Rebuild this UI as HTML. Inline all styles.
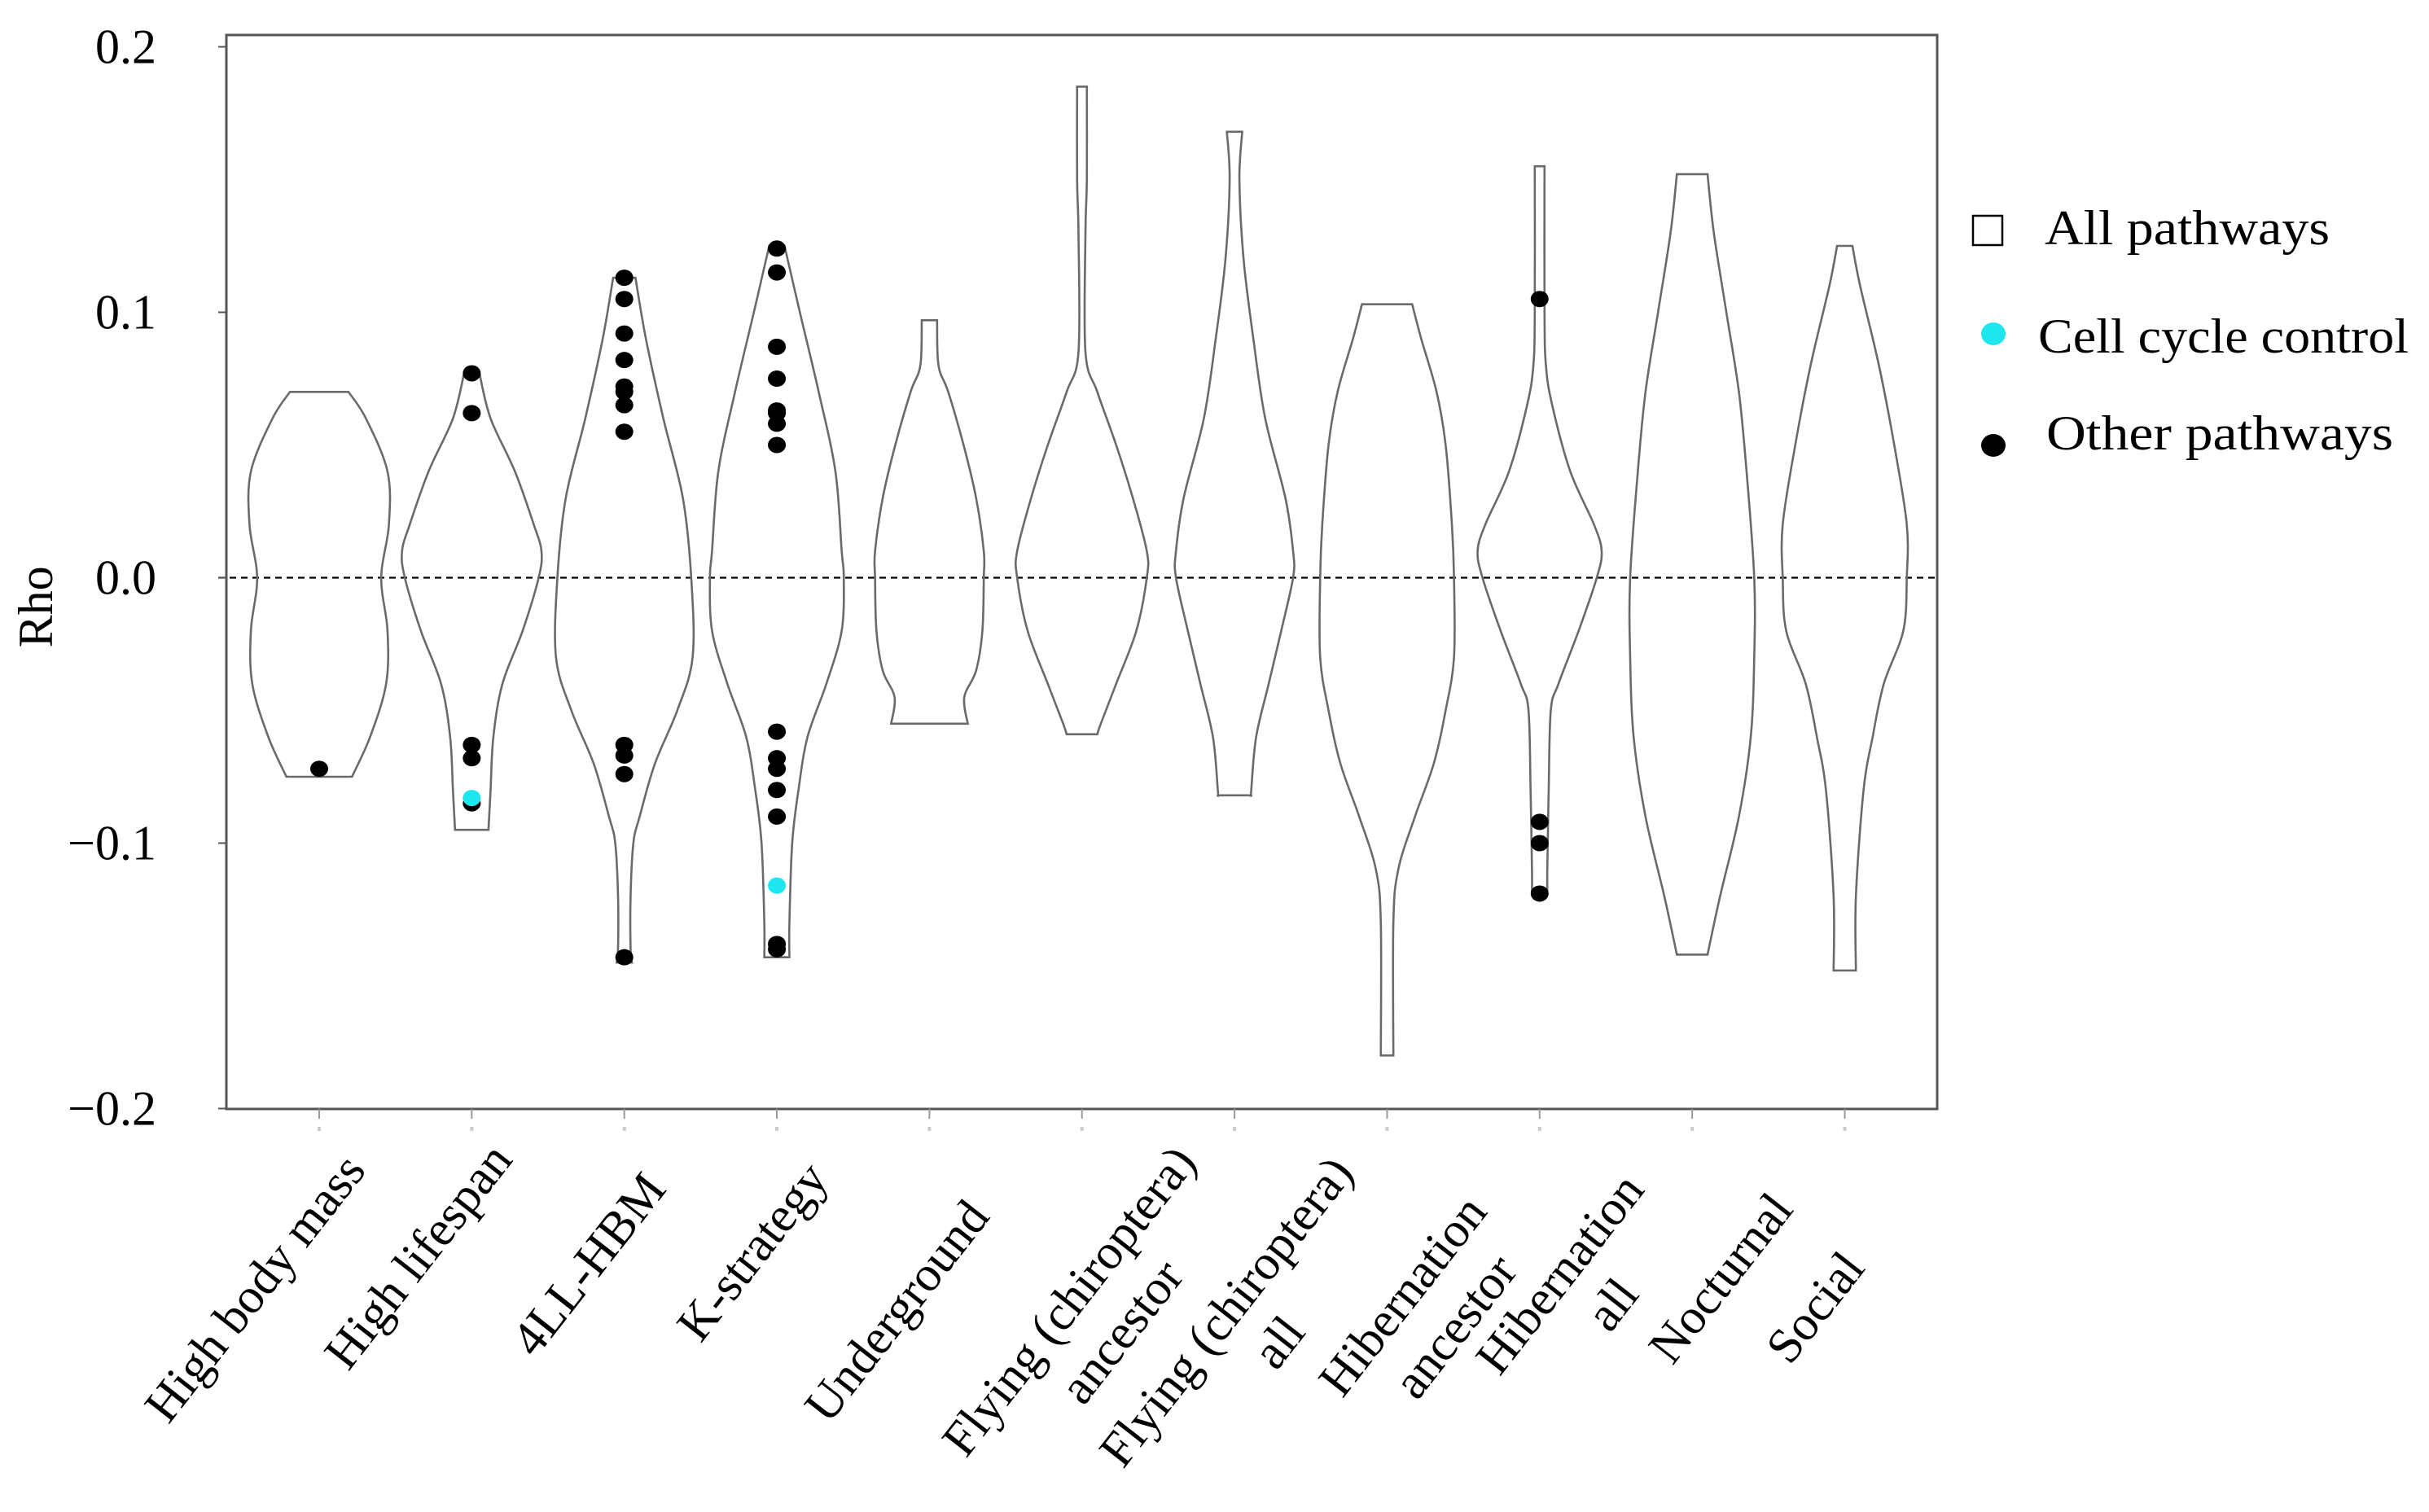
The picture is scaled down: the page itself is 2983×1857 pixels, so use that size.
<!DOCTYPE html>
<html><head><meta charset="utf-8"><style>
html,body{margin:0;padding:0;background:#fff;}
svg{display:block;font-family:"Liberation Serif",serif;}
</style></head><body>
<svg id="chart" width="2983" height="1857" viewBox="0 0 2983 1857" xmlns="http://www.w3.org/2000/svg">
<rect x="0" y="0" width="2983" height="1857" fill="#fff"/>
<g id="plot"></g>
<g id="legend">
  <rect x="2423" y="265" width="36" height="36" fill="#fff" stroke="#000" stroke-width="2.5"/>
  <text x="2511" y="300" font-size="60" textLength="350" lengthAdjust="spacingAndGlyphs">All pathways</text>
  <ellipse cx="2448" cy="410" rx="15" ry="14" fill="#1ee6ee"/>
  <text x="2503" y="433" font-size="60" textLength="455" lengthAdjust="spacingAndGlyphs">Cell cycle control</text>
  <ellipse cx="2448" cy="547" rx="15" ry="14" fill="#000"/>
  <text x="2513" y="552" font-size="60" textLength="426" lengthAdjust="spacingAndGlyphs">Other pathways</text>
</g>
</svg>
<script>
const categories = [["High body mass"],["High lifespan"],["4LL-HBM"],["K-strategy"],["Underground"],["Flying (chiroptera)","ancestor"],["Flying (chiroptera)","all"],["Hibernation","ancestor"],["Hibernation","all"],["Nocturnal"],["Social"]];
const yTicks = [0.2, 0.1, 0.0, -0.1, -0.2];
const yTickLabels = ["0.2","0.1","0.0","\u22120.1","\u22120.2"];
// violin density profiles: rho values (top to bottom) and relative half-widths
const profileValues = [
 [0.07,0.06,0.04,0.02,0.0,-0.02,-0.04,-0.06,-0.075],
 [0.077,0.06,0.04,0.02,0.01,0.0,-0.02,-0.04,-0.06,-0.08,-0.095],
 [0.113,0.09,0.06,0.03,0.0,-0.03,-0.05,-0.07,-0.09,-0.1,-0.12,-0.14,-0.145],
 [0.125,0.1,0.07,0.04,0.01,0.0,-0.02,-0.04,-0.06,-0.08,-0.1,-0.13,-0.143],
 [0.097,0.08,0.07,0.05,0.03,0.01,0.0,-0.02,-0.035,-0.045,-0.055],
 [0.185,0.15,0.13,0.085,0.07,0.05,0.03,0.01,0.0,-0.02,-0.04,-0.055,-0.059],
 [0.168,0.15,0.12,0.09,0.06,0.03,0.01,0.0,-0.02,-0.04,-0.06,-0.08,-0.082],
 [0.103,0.09,0.07,0.05,0.02,0.0,-0.03,-0.05,-0.07,-0.09,-0.11,-0.13,-0.18],
 [0.155,0.1,0.08,0.065,0.04,0.02,0.01,0.0,-0.02,-0.04,-0.05,-0.08,-0.11,-0.118],
 [0.152,0.13,0.1,0.07,0.04,0.0,-0.03,-0.06,-0.09,-0.12,-0.142],
 [0.125,0.11,0.08,0.05,0.02,0.0,-0.02,-0.04,-0.06,-0.08,-0.12,-0.148]
];
const profileWidths = [
 [0.42,0.67,0.98,1.0,0.89,0.98,0.96,0.73,0.47],
 [0.11,0.27,0.62,0.89,1.0,0.96,0.73,0.44,0.31,0.27,0.24],
 [0.16,0.31,0.56,0.84,0.96,0.98,0.76,0.44,0.22,0.13,0.09,0.09,0.11],
 [0.11,0.33,0.6,0.84,0.93,0.96,0.93,0.71,0.44,0.31,0.22,0.18,0.18],
 [0.11,0.13,0.27,0.49,0.67,0.78,0.78,0.76,0.67,0.5,0.55],
 [0.07,0.07,0.05,0.05,0.22,0.49,0.73,0.93,0.93,0.78,0.49,0.27,0.22],
 [0.11,0.07,0.13,0.27,0.44,0.73,0.84,0.84,0.67,0.49,0.31,0.24,0.24],
 [0.36,0.49,0.71,0.84,0.93,0.96,0.96,0.84,0.67,0.4,0.16,0.09,0.09],
 [0.07,0.07,0.09,0.18,0.44,0.78,0.89,0.82,0.56,0.27,0.16,0.13,0.11,0.11],
 [0.22,0.31,0.49,0.67,0.78,0.89,0.89,0.84,0.67,0.4,0.22],
 [0.11,0.22,0.49,0.71,0.89,0.89,0.84,0.56,0.4,0.27,0.16,0.16]
];
const otherPoints = [
 [-0.072],
 [0.077,0.062,-0.063,-0.068,-0.085],
 [0.113,0.105,0.092,0.082,0.072,0.070,0.065,0.055,-0.063,-0.067,-0.074,-0.143],
 [0.124,0.115,0.087,0.075,0.063,0.062,0.058,0.05,-0.058,-0.068,-0.072,-0.08,-0.09,-0.138,-0.14],
 [],[],[],[],
 [0.105,-0.092,-0.1,-0.119],
 [],[]
];
const cellCyclePoints = [[],[-0.083],[],[-0.116],[],[],[],[],[],[],[]];

const NS="http://www.w3.org/2000/svg";
const X0=392, DX=187.35, Y0=709.5, YS=3260; // px per unit rho
const plotL=278, plotR=2379, plotT=43, plotB=1362, WSCALE=85.6;
const xPos = i => X0 + i*DX;
const yPos = v => Y0 - v*YS;
const plot=document.getElementById('plot');
function mk(tag, attrs, parent){const e=document.createElementNS(NS,tag);for(const k in attrs)e.setAttribute(k,attrs[k]);(parent||plot).appendChild(e);return e;}

let e=mk('rect',{x:plotL,y:plotT,width:plotR-plotL,height:plotB-plotT,fill:'none',stroke:'#555',"stroke-width":3});


e=mk('line',{x1:268,x2:plotR,y1:yPos(0),y2:yPos(0),stroke:'#000',"stroke-width":2.2,"stroke-dasharray":"8 6"});


yTicks.forEach((t,i)=>{
  const tk=mk('line',{x1:268,x2:plotL,y1:yPos(t),y2:yPos(t),stroke:'#555',"stroke-width":2});
  
  
  const lb=mk('text',{x:192,y:yPos(t)+20,"font-size":60,"text-anchor":"end"});
  lb.textContent=yTickLabels[i];
  
  
});
e=mk('text',{x:0,y:0,"font-size":60,"text-anchor":"middle",transform:`translate(64,${yPos(-0.011)}) rotate(-90)`});
e.textContent='Rho';



function smoothSide(pts){
  let d='';
  for(let i=0;i<pts.length-1;i++){
    const p0=pts[Math.max(0,i-1)],p1=pts[i],p2=pts[i+1],p3=pts[Math.min(pts.length-1,i+2)];
    const c1=[p1[0]+(p2[0]-p0[0])/6,p1[1]+(p2[1]-p0[1])/6];
    const c2=[p2[0]-(p3[0]-p1[0])/6,p2[1]-(p3[1]-p1[1])/6];
    d+=` C${c1[0]},${c1[1]} ${c2[0]},${c2[1]} ${p2[0]},${p2[1]}`;
  }
  return d;
}
categories.forEach((c,i)=>{
  const cx=xPos(i);
  const vals=profileValues[i], ws=profileWidths[i];
  const right=vals.map((v,j)=>[cx+ws[j]*WSCALE,yPos(v)]);
  const left=vals.map((v,j)=>[cx-ws[j]*WSCALE,yPos(v)]).reverse();
  let d=`M${left[left.length-1][0]},${left[left.length-1][1]} L${right[0][0]},${right[0][1]}`+smoothSide(right)+` L${left[0][0]},${left[0][1]}`+smoothSide(left)+' Z';
  const p=mk('path',{d:d,fill:'none',stroke:'#6a6a6a',"stroke-width":2.6});
  
  
  const t1=mk('line',{x1:cx,x2:cx,y1:plotB,y2:plotB+12,stroke:'#999',"stroke-width":2});
  
  
  const t2=mk('line',{x1:cx,x2:cx,y1:plotB+22,y2:plotB+27,stroke:'#ccc',"stroke-width":4});
  
  
  otherPoints[i].forEach(v=>{
    const dt=mk('ellipse',{cx:cx,cy:yPos(v),rx:11,ry:10,fill:'#000'});
    
    
  });
  cellCyclePoints[i].forEach(v=>{
    const dt=mk('ellipse',{cx:cx,cy:yPos(v),rx:11,ry:10,fill:'#1ee6ee'});
    
    
  });
});
const labelEnds=[[453,1417],[633,1404],[822,1440],[1021,1427],[1219,1474],[1473,1407],[1666,1420],[1830,1468],[2023,1441],[2206,1465],[2294,1537]];
categories.forEach((c,i)=>{
  const [ex,ey]=labelEnds[i];
  const g=mk('g',{transform:`translate(${ex-2},${ey+21}) rotate(-52)`});
  
  
  const t=mk('text',{x:0,y:0,"font-size":61,"text-anchor":"end"},g);
  t.textContent=c[0];
  if(c[1]){
    const w=t.getComputedTextLength();
    const t2=mk('text',{x:-w/2+10,y:74,"font-size":61,"text-anchor":"middle"},g);
    t2.textContent=c[1];
  }
});
</script>
</body></html>
